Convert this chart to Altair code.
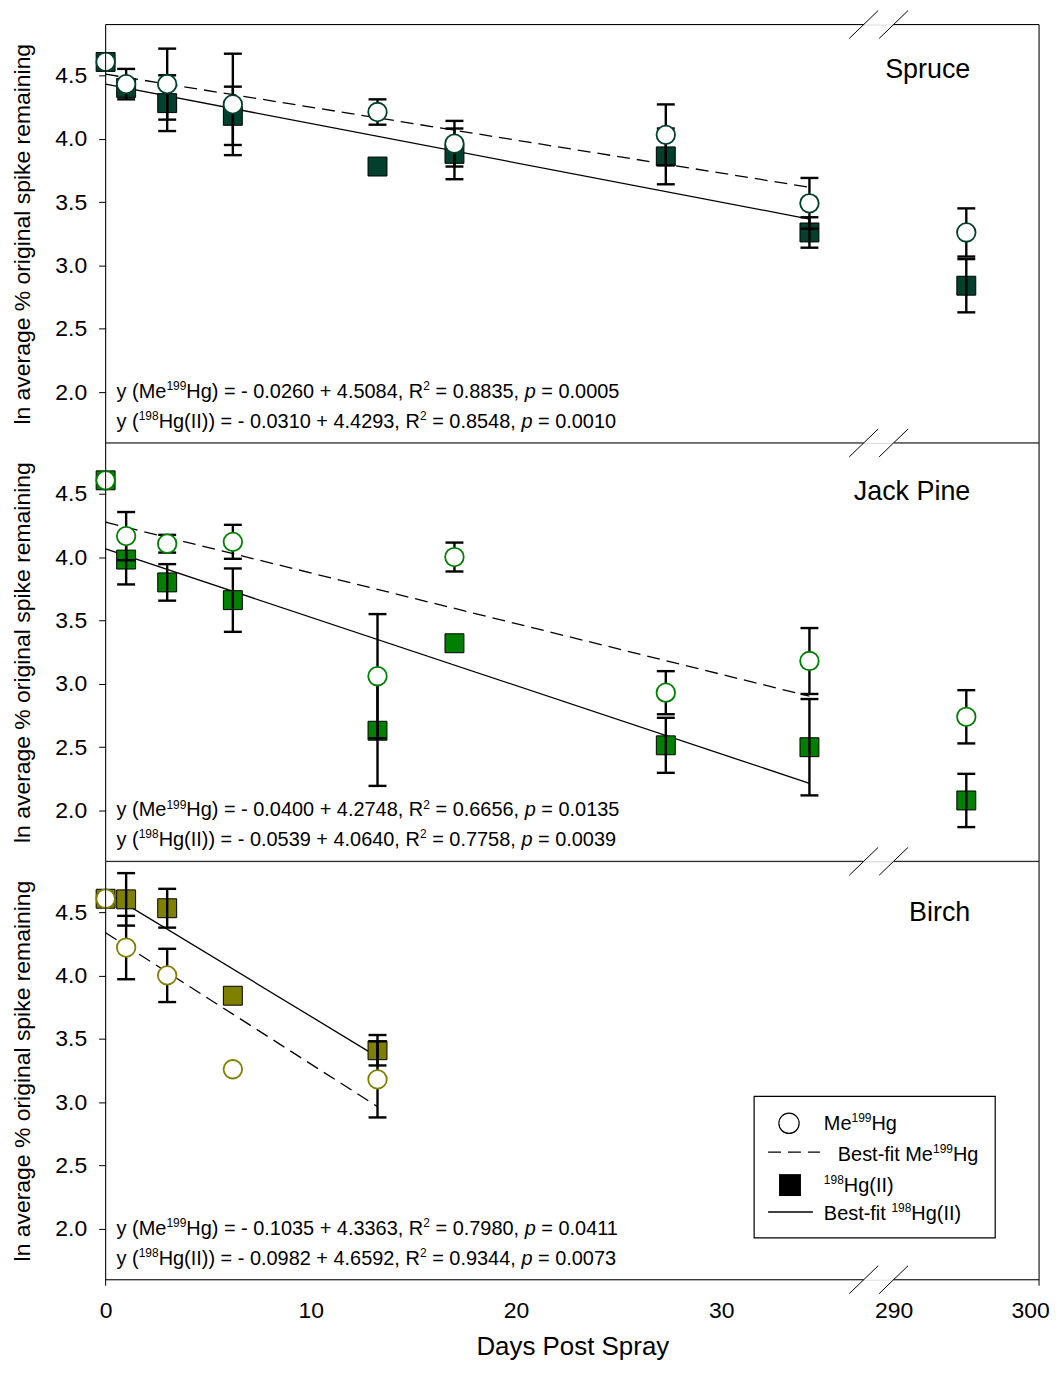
import altair as alt
import pandas as pd

FONT = "Liberation Sans"

# ---------------- data ----------------
DAYS = [0, 1, 3, 6.2, 13.25, 17, 27.3, 34.3, 295]
BIRCH_DAYS = [0, 1, 3, 6.2, 13.25]

SPRUCE_ME = [4.605, 4.43, 4.43, 4.27, 4.21, 3.96, 4.03, 3.49, 3.26]
SPRUCE_ME_ERR = [0.0, 0.12, 0.28, 0.40, 0.10, 0.18, 0.24, 0.20, 0.19]
SPRUCE_HG = [4.605, 4.40, 4.28, 4.18, 3.78, 3.88, 3.86, 3.26, 2.84]
SPRUCE_HG_ERR = [0.0, 0.0, 0.22, 0.23, 0.0, 0.20, 0.22, 0.12, 0.21]

JP_ME = [4.605, 4.165, 4.105, 4.12, 3.06, 4.00, 2.93, 3.18, 2.74]
JP_ME_ERR = [0.0, 0.19, 0.07, 0.134, 0.49, 0.114, 0.17, 0.26, 0.21]
JP_HG = [4.605, 3.98, 3.80, 3.66, 2.63, 3.32, 2.515, 2.50, 2.08]
JP_HG_ERR = [0.0, 0.196, 0.144, 0.25, 0.435, 0.0, 0.217, 0.38, 0.21]

BIRCH_ME = [4.605, 4.22, 4.00, 3.26, 3.18]
BIRCH_ME_ERR = [0.0, 0.25, 0.21, 0.0, 0.30]
BIRCH_HG = [4.605, 4.60, 4.53, 3.84, 3.41]
BIRCH_HG_ERR = [0.0, 0.207, 0.153, 0.0, 0.12]

SPECIES = ["Spruce", "Jack Pine", "Birch"]
COLORS = ["#00402D", "#008000", "#808000"]
SLOPE_ME = [-0.0260, -0.0400, -0.1035]
INT_ME = [4.5084, 4.2748, 4.3363]
R2_ME = ["0.8835", "0.6656", "0.7980"]
P_ME = ["0.0005", "0.0135", "0.0411"]
SLOPE_HG = [-0.0310, -0.0539, -0.0982]
INT_HG = [4.4293, 4.0640, 4.6592]
R2_HG = ["0.8548", "0.7758", "0.9344"]
P_HG = ["0.0010", "0.0039", "0.0073"]
FIT_END = [34.3, 34.3, 13.25]

X_TICK_LABELS = ["0", "10", "20", "30", "290", "300"]

# ---------------- layout constants ----------------
W, H = 937, 420
U_290 = 38.4          # broken-axis position of day 290 (in left-segment day units)
RATIO = 0.709         # right segment compression
U_MAX = U_290 + 10 * RATIO
U_EXPR = f"datum.day < 100 ? datum.day : {U_290} + (datum.day - 290) * {RATIO}"
GAP_L, GAP_R = 761, 791

ONE = pd.DataFrame({"k": [0]})

ARIAL = {' ': 278, '(': 333, ')': 333, ',': 278, '-': 333, '.': 278, '=': 584, '+': 584,
         'y': 500, 'M': 833, 'e': 556, 'H': 722, 'g': 556, 'R': 722, 'I': 278, 'p': 556,
         'B': 667, 's': 500, 't': 278, 'f': 278, 'i': 222}


def tw(s, fs):
    return sum(ARIAL.get(c, 556) for c in s) * fs / 1000.0


def rich(x, y, segs, fs):
    """Rich text (superscripts / italics) as a list of text marks."""
    out, cx = [], x
    for txt, kind in segs:
        f = fs * 0.6 if kind == "sup" else fs
        py = y - fs * 0.4 if kind == "sup" else y
        lead = len(txt) - len(txt.lstrip(" "))
        start = cx + tw(" " * lead, f)
        core = txt.strip(" ")
        if core:
            out.append(alt.Chart(ONE).mark_text(
                text=core, fontSize=f, align="left", baseline="alphabetic", font=FONT,
                color="black", fontStyle="italic" if kind == "i" else "normal").encode(
                x=alt.value(start), y=alt.value(py)))
        cx += tw(txt, f)
    return out


def rule(x1, x2, y1, y2, width=1.0, dash=None, color="black"):
    kw = dict(color=color, strokeWidth=width)
    if dash:
        kw["strokeDash"] = dash
    return alt.Chart(ONE).mark_rule(**kw).encode(
        x=alt.value(x1), x2=alt.value(x2), y=alt.value(y1), y2=alt.value(y2))


def panel(i, days, me, me_err, hg, hg_err, bottom):
    color = COLORS[i]
    n = len(days)
    df = pd.DataFrame({
        "day": list(days) * 2,
        "value": list(me) + list(hg),
        "err": list(me_err) + list(hg_err),
        "series": ["me"] * n + ["hg"] * n,
    })
    fit = pd.DataFrame({
        "day": [0, FIT_END[i], 0, FIT_END[i]],
        "value": [INT_ME[i], INT_ME[i] + SLOPE_ME[i] * FIT_END[i],
                  INT_HG[i], INT_HG[i] + SLOPE_HG[i] * FIT_END[i]],
        "series": ["me", "me", "hg", "hg"],
    })

    xscale = alt.Scale(domain=[0, U_MAX], nice=False, zero=False)
    yscale = alt.Scale(domain=[1.6, 4.9], nice=False, zero=False)
    if bottom:
        label_expr = ("datum.value > 45 ? '%s' : datum.value > 35 ? '%s' : format(datum.value, 'd')"
                      % (X_TICK_LABELS[5], X_TICK_LABELS[4]))
        xaxis = alt.Axis(values=[0, 10, 20, 30, U_290, U_MAX], labelExpr=label_expr,
                         title="Days Post Spray", titleFontSize=26, titleFontWeight="normal",
                         labelFontSize=23, ticks=False, domain=False, grid=False,
                         labelPadding=20, titlePadding=11, labelFlush=False, labelOverlap=False,
                         labelOffset={"condition": {"test": "datum.value > 45", "value": -9}, "value": 0},
                         labelColor="black", titleColor="black", labelFont=FONT, titleFont=FONT)
    else:
        xaxis = None
    yaxis = alt.Axis(values=[2.0, 2.5, 3.0, 3.5, 4.0, 4.5], format=".1f",
                     title="ln average % original spike remaining", titleFontSize=23,
                     titleFontWeight="normal", labelFontSize=23, tickSize=7, labelPadding=12,
                     titlePadding=20, domain=False, grid=False, tickColor="black",
                     labelColor="black", titleColor="black", labelFont=FONT, titleFont=FONT)

    X = alt.X("u:Q", scale=xscale, axis=xaxis)

    def Y(field):
        return alt.Y(field, scale=yscale, axis=yaxis)

    base = alt.Chart(df).transform_calculate(u=U_EXPR)
    fitbase = alt.Chart(fit).transform_calculate(u=U_EXPR)
    fit_me = fitbase.transform_filter("datum.series == 'me'").mark_line(
        color="black", strokeWidth=1.3, strokeDash=[13, 7]).encode(x=X, y=Y("value:Q"))
    fit_hg = fitbase.transform_filter("datum.series == 'hg'").mark_line(
        color="black", strokeWidth=1.3).encode(x=X, y=Y("value:Q"))

    squares = base.transform_filter("datum.series == 'hg'").mark_square(
        size=361, color=color, stroke="black", strokeWidth=1, opacity=1).encode(x=X, y=Y("value:Q"))

    eb = base.transform_filter("datum.err > 0").transform_calculate(
        lo="datum.value - datum.err", hi="datum.value + datum.err")
    bars = eb.mark_rule(color="black", strokeWidth=2.4).encode(x=X, y=Y("lo:Q"), y2="hi:Q")
    cap_lo = eb.mark_tick(orient="horizontal", size=18, thickness=2.4, color="black",
                          opacity=1).encode(x=X, y=Y("lo:Q"))
    cap_hi = eb.mark_tick(orient="horizontal", size=18, thickness=2.4, color="black",
                          opacity=1).encode(x=X, y=Y("hi:Q"))

    circles = base.transform_filter("datum.series == 'me'").mark_point(
        shape="circle", size=346, filled=True, fill="white", stroke=color,
        strokeWidth=1.8, opacity=1).encode(x=X, y=Y("value:Q"))

    layers = [fit_me, fit_hg, squares, bars, cap_lo, cap_hi, circles]

    # frame: top border (with break gap) in every panel, bottom only in last panel
    layers += [rule(0, GAP_L, 0, 0), rule(GAP_R, W, 0, 0)]
    if bottom:
        layers += [rule(0, GAP_L, H, H), rule(GAP_R, W, H, H)]
    ext = 6 if bottom else 0
    layers += [rule(0, 0, 0, H + ext), rule(W, W, 0, H + ext)]

    # axis-break marks
    for cx in (GAP_L, GAP_R):
        if i == 0:
            layers.append(rule(cx - 14.5, cx + 14.5, 14, -14))
        else:
            layers.append(rule(cx - 14.5, cx, 14, 0))
        if bottom:
            layers.append(rule(cx - 14.5, cx + 14.5, H + 14, H - 14))
        else:
            layers.append(rule(cx, cx + 14.5, H, H - 14))

    # species label
    label_y = [54, 57, 60][i]
    layers.append(alt.Chart(ONE).mark_text(
        text=SPECIES[i], align="right", baseline="alphabetic", font=FONT, fontSize=27,
        color="black").encode(x=alt.value(868), y=alt.value(label_y)))

    # regression equations
    fs = 20
    layers += rich(11, 375, [("y (Me", "n"), ("199", "sup"),
                             (f"Hg) = - {abs(SLOPE_ME[i]):.4f} + {INT_ME[i]:.4f}, R", "n"), ("2", "sup"),
                             (f" = {R2_ME[i]}, ", "n"), ("p", "i"), (f" = {P_ME[i]}", "n")], fs)
    layers += rich(11, 405, [("y (", "n"), ("198", "sup"),
                             (f"Hg(II)) = - {abs(SLOPE_HG[i]):.4f} + {INT_HG[i]:.4f}, R", "n"), ("2", "sup"),
                             (f" = {R2_HG[i]}, ", "n"), ("p", "i"), (f" = {P_HG[i]}", "n")], fs)

    if bottom:
        layers.append(alt.Chart(ONE).mark_rect(fill="white", stroke="black", strokeWidth=1.2).encode(
            x=alt.value(651), x2=alt.value(893), y=alt.value(236), y2=alt.value(378)))
        layers.append(rule(665, 717, 292, 292, width=1.3, dash=[13, 7]))
        layers.append(rule(665, 710, 352, 352, width=1.3))
        layers.append(alt.Chart(ONE).mark_point(
            shape="circle", size=415, filled=True, fill="white", stroke="black",
            strokeWidth=1.2, opacity=1).encode(x=alt.value(686), y=alt.value(263)))
        layers.append(alt.Chart(ONE).mark_square(
            size=484, color="black", opacity=1).encode(x=alt.value(687), y=alt.value(325)))
        layers += rich(721, 270, [("Me", "n"), ("199", "sup"), ("Hg", "n")], 20)
        layers += rich(735, 301, [("Best-fit Me", "n"), ("199", "sup"), ("Hg", "n")], 20)
        layers += rich(721, 332, [("198", "sup"), ("Hg(II)", "n")], 20)
        layers += rich(721, 360, [("Best-fit ", "n"), ("198", "sup"), ("Hg(II)", "n")], 20)

    return alt.layer(*layers).properties(width=W, height=H)


p1 = panel(0, DAYS, SPRUCE_ME, SPRUCE_ME_ERR, SPRUCE_HG, SPRUCE_HG_ERR, False)
p2 = panel(1, DAYS, JP_ME, JP_ME_ERR, JP_HG, JP_HG_ERR, False)
p3 = panel(2, BIRCH_DAYS, BIRCH_ME, BIRCH_ME_ERR, BIRCH_HG, BIRCH_HG_ERR, True)

chart = alt.vconcat(p1, p2, p3, spacing=0, bounds="flush").properties(
    padding={"left": 3, "top": -1, "right": 0, "bottom": 0}
).configure_view(stroke=None).configure(font=FONT)

chart.save("out.html", embed_options={"renderer": "svg", "actions": False})
